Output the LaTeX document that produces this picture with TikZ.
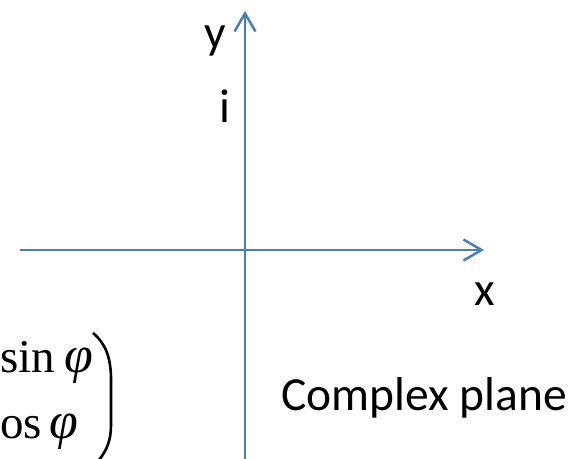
\documentclass[tikz,border=0pt]{standalone}
\usepackage{fontspec}
\setmainfont{Carlito}
\newfontfamily\timesfont{Liberation Serif}
\usetikzlibrary{arrows.meta}
\definecolor{axisblue}{RGB}{74,126,187}
\tikzset{
  axis/.style={draw=axisblue, line width=2.5pt,
    -{Straight Barb[length=18pt,width=21pt,line width=2.5pt]}},
  lbl/.style={inner sep=0pt, font=\fontsize{47.5}{52}\selectfont, text=black},
  mat/.style={inner sep=0pt, font=\timesfont\fontsize{47}{52}\selectfont, text=black},
}
\newcommand{\bigphi}{{\fontsize{52}{56}\selectfont\textit{φ}}}
\begin{document}
\begin{tikzpicture}[x=1pt,y=-1pt]
\useasboundingbox (0,0) rectangle (570,458);
\clip (0,0) rectangle (570,458);
\coordinate (ybot) at (245,460);
\coordinate (ytop) at (245,11);
\coordinate (xleft) at (20,250);
\coordinate (xright) at (484,250);
\draw[axis] (xleft) -- (xright);
\draw[axis] (ybot) -- (ytop);
\node[lbl, anchor=base] (ylab) at (215,48) {y};
\node[lbl, anchor=base] (ilab) at (224.5,122) {i};
\node[lbl, anchor=base] (xlab) at (484.5,305) {x};
\node[lbl, anchor=base west] (cplane) at (281,410) {Complex plane};
\node[mat, anchor=base west] (row1) at (0,372) {sin\kern9pt\bigphi};
\node[mat, anchor=base west] (row2) at (0,438) {os\kern8pt\bigphi};
\draw[line width=2.6pt, black] (93,333) .. controls (106,344) and (111,358) .. (111,380)
  -- (111,425) .. controls (111,440) and (107,450) .. (99,460);
\end{tikzpicture}
\end{document}
